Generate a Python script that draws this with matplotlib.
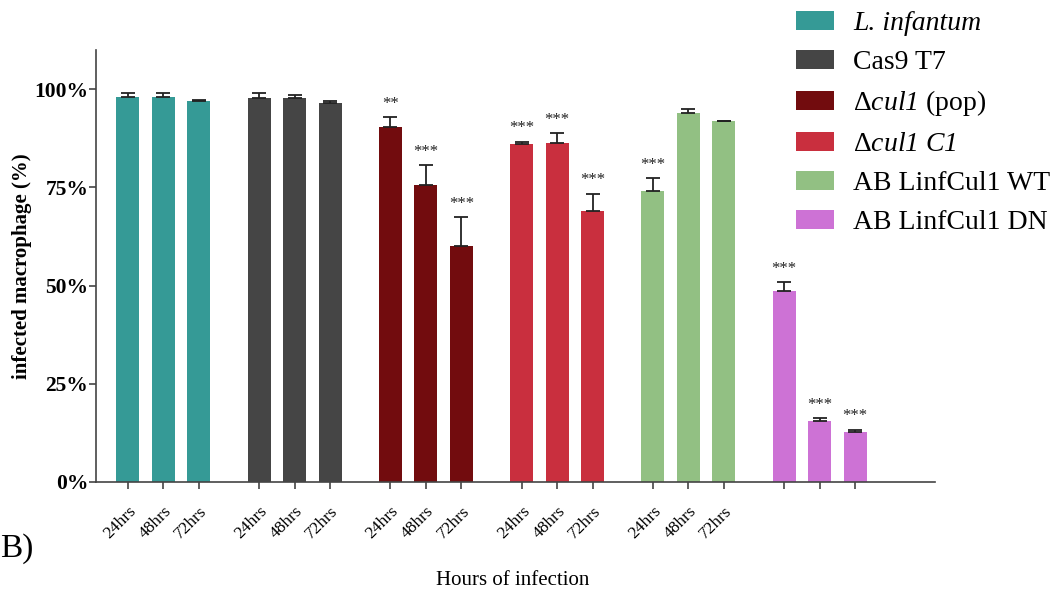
import matplotlib
matplotlib.use("Agg")
import matplotlib.pyplot as plt
from matplotlib.patches import Patch

plt.rcParams['font.family'] = ['Liberation Serif', 'DejaVu Serif']
plt.rcParams['mathtext.fontset'] = 'custom'
plt.rcParams['mathtext.rm'] = 'Liberation Serif'
plt.rcParams['mathtext.it'] = 'Liberation Serif:italic'
# sf slot used for italic text that includes digits (cul1)
plt.rcParams['mathtext.sf'] = 'Liberation Serif:italic'

# Data
groups = ['L. infantum', 'Cas9 T7', r'$\Delta\mathsf{cul1}$ (pop)',
          r'$\Delta\mathsf{cul1\ C1}$', 'AB LinfCul1 WT', 'AB LinfCul1 DN']
colors = ['#359a96', '#454545', '#720c0e', '#c92f3e', '#92c083', '#cd72d5']
hours = ['24hrs', '48hrs', '72hrs']
values = [
    [98.1, 97.9, 96.9],
    [97.8, 97.8, 96.5],
    [90.3, 75.6, 60.1],
    [86.0, 86.3, 69.0],
    [74.0, 93.9, 91.8],
    [48.7, 15.5, 12.8],
]
errors = [
    [0.9, 1.1, 0.3],
    [1.3, 0.8, 0.5],
    [2.6, 5.0, 7.3],
    [0.6, 2.5, 4.4],
    [3.3, 1.1, 0.2],
    [2.2, 0.7, 0.5],
]
stars = [
    ['', '', ''],
    ['', '', ''],
    ['**', '***', '***'],
    ['***', '***', '***'],
    ['***', '', ''],
    ['***', '***', '***'],
]
show_labels = [True, True, True, True, True, False]

fig = plt.figure(figsize=(10.62, 5.95), dpi=100)
ax = fig.add_axes([0.0904, 0.190, 0.790, 0.726])

group_step = 3.7
ticks, tick_labels = [], []
for g in range(len(groups)):
    xs = [g * group_step + i for i in range(3)]
    ax.bar(xs, values[g], width=0.65, color=colors[g], label=groups[g], zorder=2)
    ax.errorbar(xs, values[g], yerr=[[0, 0, 0], errors[g]], fmt='none',
                ecolor='#222222', elinewidth=1.3, capsize=5, capthick=1.3, zorder=3)
    for i in range(3):
        if stars[g][i]:
            ax.annotate(stars[g][i], (xs[i], values[g][i] + errors[g][i]),
                        xytext=(0, 4), textcoords='offset points',
                        ha='center', va='bottom', fontsize=12, color='#222222')
        ticks.append(xs[i])
        tick_labels.append(hours[i] if show_labels[g] else '')

ax.set_xlim(-0.9, 5 * group_step + 2 + 2.25)
ax.set_ylim(0, 110)
ax.set_yticks([0, 25, 50, 75, 100])
ax.set_yticklabels(['0%', '25%', '50%', '75%', '100%'], fontsize=15.5, fontweight='bold')
ax.set_xticks(ticks)
ax.set_xticklabels(tick_labels, rotation=45, ha='right', rotation_mode='anchor', fontsize=12.5)
ax.tick_params(axis='both', direction='out', length=5, width=1.2, color='#444444')
ax.tick_params(axis='x', pad=10)
ax.tick_params(axis='y', pad=0.5)
for side in ['top', 'right']:
    ax.spines[side].set_visible(False)
for side in ['left', 'bottom']:
    ax.spines[side].set_color('#444444')
    ax.spines[side].set_linewidth(1.2)

ax.set_ylabel('infected macrophage (%)', fontsize=15, fontweight='bold')
ax.yaxis.set_label_coords(-0.076, 0.5)
fig.text(0.483, 0.025, 'Hours of infection', ha='center', va='center', fontsize=15)
fig.text(0.0, 0.078, 'B)', ha='left', va='center', fontsize=24)

handles = [Patch(facecolor=c) for c in colors]
leg = fig.legend(handles, groups, loc='upper left', bbox_to_anchor=(0.7495, 0.982),
                 frameon=False, fontsize=20, handlelength=1.37, handleheight=0.68,
                 labelspacing=0.49, handletextpad=0.68, borderpad=0, borderaxespad=0)
leg.get_texts()[0].set_style('italic')

fig.savefig('out.png', dpi=100)
